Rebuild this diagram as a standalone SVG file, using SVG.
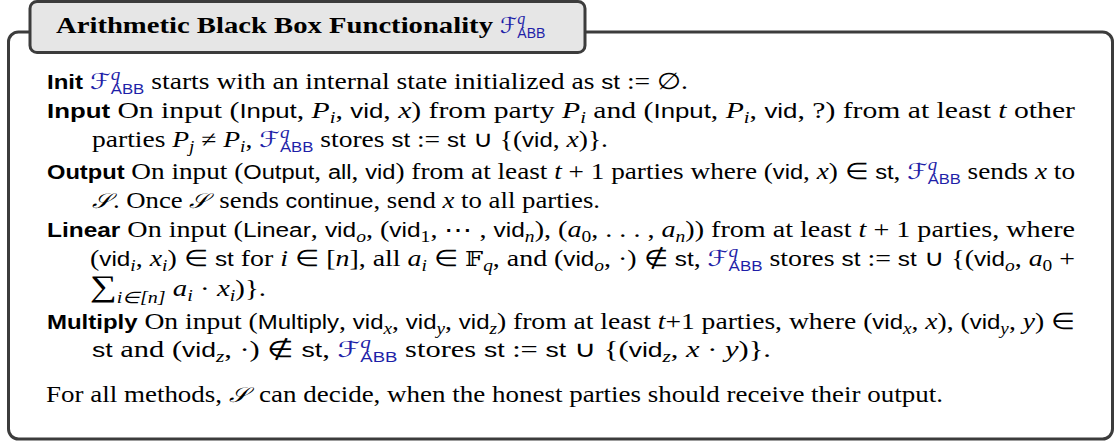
<svg xmlns="http://www.w3.org/2000/svg" width="1119" height="442" viewBox="0 0 1119 442">
<style>
svg{background:#ffffff}
.r{font-family:"Liberation Serif",serif;font-size:23px;fill:#000000}
.tb{font-family:"Liberation Serif",serif;font-size:24px;font-weight:bold;fill:#000000}
.bl{font-family:"Liberation Sans",sans-serif;font-weight:bold;font-size:20px}
.sf{font-family:"Liberation Sans",sans-serif;font-size:20px}
.it{font-style:italic}
.sb{font-style:italic;font-size:16px}
.sn{font-size:16px}
.F{font-family:"DejaVu Serif","DejaVu Sans",serif;font-style:italic;font-size:22px;fill:#1f1fa8}
.q{font-family:"Liberation Serif",serif;font-style:italic;font-size:16px;fill:#1f1fa8}
.abb{font-family:"Liberation Sans",sans-serif;font-size:14px;fill:#1f1fa8}
.cal{font-family:"DejaVu Serif","DejaVu Sans",serif;font-style:italic;font-size:21px}
.bb{font-family:"DejaVu Serif","DejaVu Sans",serif;font-size:21px}
.sum{font-size:30px}
</style>
<g id="frame">
<rect x="8.5" y="32" width="1104" height="407" rx="10" fill="#ffffff" stroke="#3c3c3c" stroke-width="3"/>
</g>
<g id="title" font-family="Liberation Serif, serif" font-size="23">
<rect x="30" y="1.5" width="555" height="51" rx="7" fill="#e6e6e6" stroke="#3c3c3c" stroke-width="3"/>
<text class="tb" x="56" y="33" textLength="437" lengthAdjust="spacingAndGlyphs" font-weight="bold" font-size="24">Arithmetic Black Box Functionality</text>
<text class="r" x="500" y="33"><tspan class="F">ℱ</tspan><tspan class="q" dy="-9">q</tspan><tspan class="abb" dx="-8" dy="14">ABB</tspan></text>
</g>
<g id="body" font-family="Liberation Serif, serif" font-size="23" fill="#000000">
<g id="init">
<text class="r" x="47" y="89" textLength="641" lengthAdjust="spacingAndGlyphs"><tspan class="bl">Init</tspan> <tspan class="F">ℱ</tspan><tspan class="q" dy="-9">q</tspan><tspan class="abb" dx="-8" dy="14">ABB</tspan><tspan dy="-5"> starts with an internal state initialized as </tspan><tspan class="sf">st</tspan> := ∅.</text>
</g>
<g id="input">
<text class="r" x="47" y="118" textLength="1028" lengthAdjust="spacingAndGlyphs"><tspan class="bl">Input</tspan> On input (<tspan class="sf">Input</tspan>, <tspan class="it">P</tspan><tspan class="sb" dy="5">i</tspan><tspan dy="-5">, </tspan><tspan class="sf">vid</tspan>, <tspan class="it">x</tspan>) from party <tspan class="it">P</tspan><tspan class="sb" dy="5">i</tspan><tspan dy="-5"> and (</tspan><tspan class="sf">Input</tspan>, <tspan class="it">P</tspan><tspan class="sb" dy="5">i</tspan><tspan dy="-5">, </tspan><tspan class="sf">vid</tspan>, ?) from at least <tspan class="it">t</tspan> other</text>
<text class="r" x="92" y="147" textLength="516" lengthAdjust="spacingAndGlyphs">parties <tspan class="it">P</tspan><tspan class="sb" dy="5">j</tspan><tspan dy="-5"> ≠ </tspan><tspan class="it">P</tspan><tspan class="sb" dy="5">i</tspan><tspan dy="-5">, </tspan><tspan class="F">ℱ</tspan><tspan class="q" dy="-9">q</tspan><tspan class="abb" dx="-8" dy="14">ABB</tspan><tspan dy="-5"> stores </tspan><tspan class="sf">st</tspan> := <tspan class="sf">st</tspan> ∪ {(<tspan class="sf">vid</tspan>, <tspan class="it">x</tspan>)}.</text>
</g>
<g id="output">
<text class="r" x="47" y="179" textLength="1028" lengthAdjust="spacingAndGlyphs"><tspan class="bl">Output</tspan> On input (<tspan class="sf">Output</tspan>, <tspan class="sf">all</tspan>, <tspan class="sf">vid</tspan>) from at least <tspan class="it">t</tspan> + 1 parties where (<tspan class="sf">vid</tspan>, <tspan class="it">x</tspan>) ∈ <tspan class="sf">st</tspan>, <tspan class="F">ℱ</tspan><tspan class="q" dy="-9">q</tspan><tspan class="abb" dx="-8" dy="14">ABB</tspan><tspan dy="-5"> sends </tspan><tspan class="it">x</tspan> to</text>
<text class="r" x="92" y="208" textLength="508" lengthAdjust="spacingAndGlyphs"><tspan class="cal">𝒮</tspan><tspan dx="2">. Once </tspan><tspan class="cal">𝒮</tspan><tspan dx="4"> sends </tspan><tspan class="sf">continue</tspan>, send <tspan class="it">x</tspan> to all parties.</text>
</g>
<g id="linear">
<text class="r" x="47" y="237" textLength="1028" lengthAdjust="spacingAndGlyphs"><tspan class="bl">Linear</tspan> On input (<tspan class="sf">Linear</tspan>, <tspan class="sf">vid</tspan><tspan class="sb" dy="5">o</tspan><tspan dy="-5">, (</tspan><tspan class="sf">vid</tspan><tspan class="sn" dy="5">1</tspan><tspan dy="-5">, ⋯ , </tspan><tspan class="sf">vid</tspan><tspan class="sb" dy="5">n</tspan><tspan dy="-5">), (</tspan><tspan class="it">a</tspan><tspan class="sn" dy="5">0</tspan><tspan dy="-5">, . . . , </tspan><tspan class="it">a</tspan><tspan class="sb" dy="5">n</tspan><tspan dy="-5">)) from at least </tspan><tspan class="it">t</tspan> + 1 parties, where</text>
<text class="r" x="90" y="266" textLength="985" lengthAdjust="spacingAndGlyphs">(<tspan class="sf">vid</tspan><tspan class="sb" dy="5">i</tspan><tspan dy="-5">, </tspan><tspan class="it">x</tspan><tspan class="sb" dy="5">i</tspan><tspan dy="-5">) ∈ </tspan><tspan class="sf">st</tspan> for <tspan class="it">i</tspan> ∈ [<tspan class="it">n</tspan>], all <tspan class="it">a</tspan><tspan class="sb" dy="5">i</tspan><tspan dy="-5"> ∈ </tspan><tspan class="bb">𝔽</tspan><tspan class="sb" dy="5">q</tspan><tspan dy="-5">, and (</tspan><tspan class="sf">vid</tspan><tspan class="sb" dy="5">o</tspan><tspan dy="-5">, ·) ∉ </tspan><tspan class="sf">st</tspan>, <tspan class="F">ℱ</tspan><tspan class="q" dy="-9">q</tspan><tspan class="abb" dx="-8" dy="14">ABB</tspan><tspan dy="-5"> stores </tspan><tspan class="sf">st</tspan> := <tspan class="sf">st</tspan> ∪ {(<tspan class="sf">vid</tspan><tspan class="sb" dy="5">o</tspan><tspan dy="-5">, </tspan><tspan class="it">a</tspan><tspan class="sn" dy="5">0</tspan><tspan dy="-5"> +</tspan></text>
<text class="r" x="90" y="296" textLength="176" lengthAdjust="spacingAndGlyphs"><tspan class="sum">∑</tspan><tspan class="sb" dy="7">i∈[n]</tspan><tspan dy="-7"> </tspan><tspan class="it">a</tspan><tspan class="sb" dy="5">i</tspan><tspan dy="-5"> · </tspan><tspan class="it">x</tspan><tspan class="sb" dy="5">i</tspan><tspan dy="-5">)}.</tspan></text>
</g>
<g id="multiply">
<text class="r" x="47" y="329" textLength="1028" lengthAdjust="spacingAndGlyphs"><tspan class="bl">Multiply</tspan> On input (<tspan class="sf">Multiply</tspan>, <tspan class="sf">vid</tspan><tspan class="sb" dy="5">x</tspan><tspan dy="-5">, </tspan><tspan class="sf">vid</tspan><tspan class="sb" dy="5">y</tspan><tspan dy="-5">, </tspan><tspan class="sf">vid</tspan><tspan class="sb" dy="5">z</tspan><tspan dy="-5">) from at least </tspan><tspan class="it">t</tspan>+1 parties, where (<tspan class="sf">vid</tspan><tspan class="sb" dy="5">x</tspan><tspan dy="-5">, </tspan><tspan class="it">x</tspan>), (<tspan class="sf">vid</tspan><tspan class="sb" dy="5">y</tspan><tspan dy="-5">, </tspan><tspan class="it">y</tspan>) ∈</text>
<text class="r" x="92" y="357" textLength="679" lengthAdjust="spacingAndGlyphs"><tspan class="sf">st</tspan> and (<tspan class="sf">vid</tspan><tspan class="sb" dy="5">z</tspan><tspan dy="-5">, ·) ∉ </tspan><tspan class="sf">st</tspan>, <tspan class="F">ℱ</tspan><tspan class="q" dy="-9">q</tspan><tspan class="abb" dx="-8" dy="14">ABB</tspan><tspan dy="-5"> stores </tspan><tspan class="sf">st</tspan> := <tspan class="sf">st</tspan> ∪ {(<tspan class="sf">vid</tspan><tspan class="sb" dy="5">z</tspan><tspan dy="-5">, </tspan><tspan class="it">x</tspan> · <tspan class="it">y</tspan>)}.</text>
</g>
<g id="note">
<text class="r" x="46" y="402" textLength="897" lengthAdjust="spacingAndGlyphs">For all methods, <tspan class="cal">𝒮</tspan><tspan dx="4"> can decide, when the honest parties should receive their output.</tspan></text>
</g>
</g>
</svg>
